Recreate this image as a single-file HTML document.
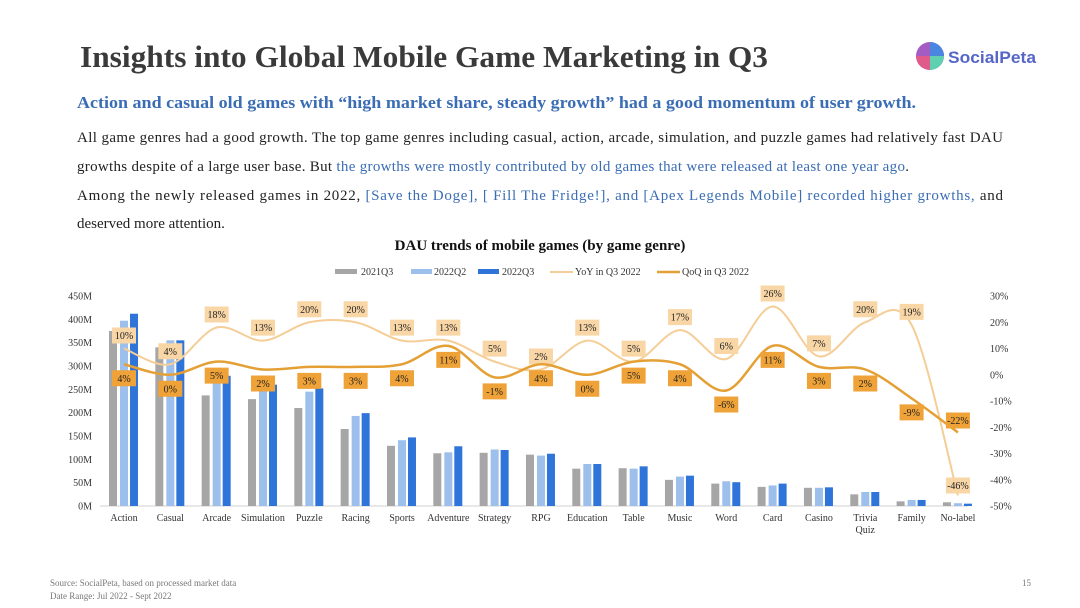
<!DOCTYPE html>
<html><head><meta charset="utf-8"><style>
html,body{margin:0;padding:0;background:#fff;}
svg{display:block;font-family:"Liberation Serif",serif;}
</style></head><body>
<svg id="s" width="1080" height="608" viewBox="0 0 1080 608" xmlns="http://www.w3.org/2000/svg">
<rect width="1080" height="608" fill="#fff"/>
<text x="80" y="67" font-size="31" font-weight="bold" fill="#3a3a3a" textLength="688" lengthAdjust="spacingAndGlyphs">Insights into Global Mobile Game Marketing in Q3</text>
<g>
<circle cx="930" cy="56" r="14" fill="#a45bc4"/>
<path d="M930 42 A14 14 0 0 1 944 56 L930 56 Z" fill="#4a86e0"/>
<path d="M930 56 L944 56 A14 14 0 0 1 930 70 Z" fill="#5fd1b0"/>
<path d="M916 56 A14 14 0 0 0 930 70 L930 56 Z" fill="#e05a8a"/>
<text x="948" y="63" font-family="Liberation Sans,sans-serif" font-size="17" font-weight="bold" fill="#5566c8" textLength="88" lengthAdjust="spacingAndGlyphs">SocialPeta</text>
</g>
<text x="77" y="108" font-size="16.5" font-weight="bold" fill="#3b6db4" textLength="839" lengthAdjust="spacingAndGlyphs">Action and casual old games with “high market share, steady growth” had a good momentum of user growth.</text>
<g font-size="15" fill="#222">
<text x="77" y="142" textLength="926" lengthAdjust="spacing">All game genres had a good growth. The top game genres including casual, action, arcade, simulation, and puzzle games had relatively fast DAU</text>
<text x="77" y="171" textLength="832" lengthAdjust="spacing">growths despite of a large user base. But <tspan fill="#3b6db4">the growths were mostly contributed by old games that were released at least one year ago</tspan>.</text>
<text x="77" y="200" textLength="926" lengthAdjust="spacing">Among the newly released games in 2022, <tspan fill="#3b6db4">[Save the Doge], [ Fill The Fridge!], and [Apex Legends Mobile] recorded higher growths,</tspan> and</text>
<text x="77" y="228">deserved more attention.</text>
</g>
<text x="540" y="250" font-size="15" font-weight="bold" fill="#111" text-anchor="middle">DAU trends of mobile games (by game genre)</text>
<g font-size="10" fill="#333">
<g><rect x="335" y="269" width="22" height="5" fill="#a6a6a6"/><text x="361" y="275">2021Q3</text></g>
<g><rect x="411" y="269" width="21" height="5" fill="#9dbfec"/><text x="434" y="275">2022Q2</text></g>
<g><rect x="478" y="269" width="21" height="5" fill="#2f74d8"/><text x="502" y="275">2022Q3</text></g>
<g><line x1="550" y1="272" x2="573" y2="272" stroke="#f5cd97" stroke-width="2"/><text x="575" y="275">YoY in Q3 2022</text></g>
<g><line x1="657" y1="272" x2="680" y2="272" stroke="#e4a035" stroke-width="2.5"/><text x="682" y="275">QoQ in Q3 2022</text></g>
</g>
<g id="chart"></g>
<text x="50" y="586" font-size="9" fill="#777">Source: SocialPeta, based on processed market data</text>
<text x="50" y="599" font-size="9" fill="#777">Date Range: Jul 2022 - Sept 2022</text>
<text x="1022" y="586" font-size="9" fill="#777">15</text>
</svg>
<script>
const categories = ["Action","Casual","Arcade","Simulation","Puzzle","Racing","Sports","Adventure","Strategy","RPG","Education","Table","Music","Word","Card","Casino","Trivia\nQuiz","Family","No-label"];
const dau2021Q3 = [375,340,237,229,210,165,129,113,114,110,80,81,56,48,41,39,25,10,8];
const dau2022Q2 = [397,355,268,253,245,193,141,115,121,108,90,80,63,53,44,39,30,13,6];
const dau2022Q3 = [412,355,279,260,252,199,147,128,120,112,90,85,65,51,48,40,30,13,5];
const yoy = [10,4,18,13,20,20,13,13,5,2,13,5,17,6,26,7,20,19,-46];
const qoq = [4,0,5,2,3,3,4,11,-1,4,0,5,4,-6,11,3,2,-9,-22];
const leftTicks = [0,50,100,150,200,250,300,350,400,450];
const rightTicks = [30,20,10,0,-10,-20,-30,-40,-50];

const NS="http://www.w3.org/2000/svg";
const g=document.getElementById('chart');
function mk(tag,attrs,parent){const e=document.createElementNS(NS,tag);for(const k in attrs)e.setAttribute(k,attrs[k]);(parent||g).appendChild(e);return e;}
const y0=506, yTop=296;
const yL=v=>y0-(v/450)*(y0-yTop);
const yR=p=>yTop+(30-p)/80*(y0-yTop);
const xC=i=>124+i*46.33;

mk('line',{x1:100,y1:y0,x2:968,y2:y0,stroke:'#d0d0d0','stroke-width':1});
leftTicks.forEach(v=>{const t=mk('text',{x:92,y:yL(v)+3.5,'font-size':10,fill:'#333','text-anchor':'end'});t.textContent=v+'M';

});
rightTicks.forEach(v=>{const t=mk('text',{x:990,y:yR(v)+3.5,'font-size':10,fill:'#333'});t.textContent=v+'%';

});
const series=[[dau2021Q3,'#a6a6a6',-11],[dau2022Q2,'#9dbfec',0],[dau2022Q3,'#2f74d8',10]];
categories.forEach((c,i)=>{
  series.forEach(([arr,col,off],k)=>{
    const r=mk('rect',{x:xC(i)+off-4,y:yL(arr[i]),width:8,height:y0-yL(arr[i]),fill:col});
    
    
  });
  const lines=c.split('\n');
  lines.forEach((ln,j)=>{const t=mk('text',{x:xC(i),y:521+j*12,'font-size':10,fill:'#333','text-anchor':'middle'});t.textContent=ln;
  
  });
});
function smooth(pts){let d='M'+pts[0][0]+' '+pts[0][1];for(let i=0;i<pts.length-1;i++){const p0=pts[i-1]||pts[i],p1=pts[i],p2=pts[i+1],p3=pts[i+2]||p2;
const c1=[p1[0]+(p2[0]-p0[0])/6,p1[1]+(p2[1]-p0[1])/6],c2=[p2[0]-(p3[0]-p1[0])/6,p2[1]-(p3[1]-p1[1])/6];
d+=` C${c1[0]} ${c1[1]} ${c2[0]} ${c2[1]} ${p2[0]} ${p2[1]}`;}return d;}
function drawLine(arr,col,w,name,lblBg,dy,lastDy){
  const p=mk('path',{d:smooth(arr.map((v,i)=>[xC(i),yR(v)])),fill:'none',stroke:col,'stroke-width':w});
  
  
  arr.forEach((v,i)=>{const cy=yR(v)+(i===arr.length-1?lastDy:dy);
    const r=mk('rect',{x:xC(i)-12,y:cy-8,width:24,height:16,fill:lblBg});
    
    
    const t=mk('text',{x:xC(i),y:cy+3.5,'font-size':10,fill:'#222','text-anchor':'middle'});t.textContent=v+'%';
    
    });
}
drawLine(yoy,'#f5cd97',2,'yoy','#f8d6a6',-13,-10);
drawLine(qoq,'#e4a035',2.5,'qoq','#efa237',14,-12);
</script>
</body></html>
